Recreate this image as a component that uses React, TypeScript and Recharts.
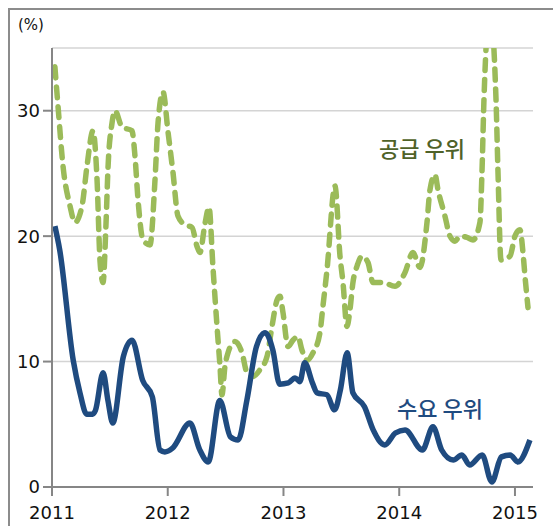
import { CartesianGrid, Line, LineChart, XAxis, YAxis } from "recharts";

// x = months since Jan 2011
const yearTicks = [0, 12, 24, 36, 48];
const yearLabels = ["2011", "2012", "2013", "2014", "2015"];
const valueTicks = [0, 10, 20, 30];

// 수요 우위
const demandMonths = [
  0.3, 0.8, 2.2, 2.9, 3.6, 4.2, 4.5, 5.3, 5.8, 6.3, 7.4, 8.3, 9.4, 10.4, 11.2, 11.7,
  12.5, 14.3, 15.3, 16.2, 17.4, 18.5, 19.3, 20.2, 21.2, 22.1, 22.9, 23.6, 24.5, 25.2,
  25.7, 26.2, 27.0, 27.5, 28.5, 29.3, 29.9, 30.6, 31.2, 32.4, 33.3, 34.5, 35.6, 36.6,
  38.4, 39.5, 40.4, 41.6, 42.5, 43.3, 44.6, 45.6, 46.6, 47.5, 48.3, 49.55,
];
const demandValues = [
  20.8, 18.9, 10.1, 7.5, 5.8, 5.8, 6.1, 9.1, 6.9, 5.1, 10.4, 11.7, 8.5, 7.2, 2.95, 2.8,
  3.1, 5.1, 3.0, 2.0, 6.9, 4.0, 3.75, 6.9, 11.2, 12.3, 10.9, 8.2, 8.3, 8.7,
  8.4, 9.9, 8.3, 7.5, 7.35, 6.15, 7.75, 10.7, 7.5, 6.4, 4.55, 3.35, 4.3, 4.55,
  2.95, 4.8, 2.95, 2.15, 2.55, 1.75, 2.55, 0.4, 2.4, 2.55, 2.0, 3.75,
];

// 공급 우위
const supplyMonths = [
  0.3, 0.62, 1.14, 1.87, 2.38, 3.11, 3.63, 4.25, 4.67, 4.98, 5.29, 5.6, 5.81, 6.22, 6.53,
  7.26, 8.29, 8.6, 8.92, 9.43, 10.16, 10.68, 10.99, 11.51, 12.03, 12.54, 13.06, 13.79,
  14.51, 15.03, 15.34, 15.86, 16.28, 16.69, 17.11, 17.42, 17.62, 17.93, 18.25, 18.97,
  19.7, 20.22, 20.84, 21.56, 22.29, 22.81, 23.33, 23.64, 23.95, 24.47, 24.98, 25.5,
  25.92, 26.44, 27.06, 27.78, 28.09, 28.51, 29.34, 29.86, 30.17, 30.58, 30.89, 31.2,
  31.62, 32.14, 32.76, 33.28, 34.31, 35.56, 36.6, 37.42, 38.15, 38.88, 39.19, 39.71,
  40.02, 40.74, 41.26, 41.78, 42.3, 43.02, 43.65, 44.37, 44.58, 44.79, 45.4, 46.03,
  46.24, 46.55, 47.48, 48.0, 48.52, 48.83, 49.04, 49.35,
];
const supplyValues = [
  33.5, 30.4, 25.6, 22.4, 21.1, 22.4, 25.6, 28.4, 24.5, 18.0, 16.3, 21.0, 25.5, 29.0, 30.0,
  28.7, 28.4, 26.4, 22.9, 19.7, 19.3, 24.5, 29.0, 31.5, 28.3, 25.1, 21.6, 20.9,
  20.7, 19.2, 18.7, 21.0, 22.3, 17.5, 12.8, 9.6, 7.35, 9.6, 10.7, 11.6,
  10.7, 9.1, 8.8, 9.35, 10.4, 12.8, 14.9, 15.2, 13.9, 11.2, 11.7, 12.0,
  10.9, 10.1, 10.7, 12.3, 14.4, 17.3, 24.0, 18.4, 16.3, 12.8, 14.1, 16.3,
  17.6, 18.4, 17.9, 16.3, 16.3, 16.0, 17.1, 18.7, 17.5, 21.1, 23.7, 24.9,
  23.7, 21.6, 20.0, 19.6, 20.0, 19.9, 19.7, 21.1, 25.1, 31.0, 38.0, 31.0,
  25.1, 18.1, 18.4, 20.0, 20.5, 18.7, 16.8, 14.3,
];

const demand = demandMonths.map((m, i) => ({ m, v: demandValues[i] }));
const supply = supplyMonths.map((m, i) => ({ m, v: supplyValues[i] }));

const axisColor = "#868686";
const tickFont = { fill: "#111", fontSize: 18, fontFamily: "DejaVu Sans" };

export default function App() {
  return (
    <div
      style={{
        position: "fixed",
        left: 8,
        top: 8,
        width: 545,
        height: 518,
        boxSizing: "border-box",
        borderTop: "2px solid #8c8c8c",
        borderLeft: "2px solid #8c8c8c",
        background: "#fff",
      }}
    >
      <div
        style={{
          position: "absolute",
          left: 8,
          top: 6,
          fontSize: 15,
          fontFamily: "DejaVu Sans",
          color: "#111",
        }}
      >
        (%)
      </div>
      <LineChart width={543} height={516} margin={{ top: 38, right: 20, left: 0, bottom: 0 }}>
        <CartesianGrid vertical={false} stroke="#d4d4d4" strokeWidth={1.5} />
        <XAxis
          dataKey="m"
          type="number"
          domain={[0, 49.87]}
          allowDataOverflow
          ticks={yearTicks}
          interval={0}
          tickFormatter={(m: number) => yearLabels[yearTicks.indexOf(m)]}
          height={39}
          tickSize={9}
          tickMargin={10}
          tick={tickFont}
          axisLine={{ stroke: axisColor, strokeWidth: 2 }}
          tickLine={{ stroke: axisColor, strokeWidth: 2 }}
        />
        <YAxis
          type="number"
          domain={[0, 35]}
          allowDataOverflow
          ticks={valueTicks}
          interval={0}
          width={42}
          tickSize={9}
          tickMargin={3}
          tick={tickFont}
          axisLine={{ stroke: axisColor, strokeWidth: 2 }}
          tickLine={{ stroke: axisColor, strokeWidth: 2 }}
        />
        <Line
          data={supply}
          dataKey="v"
          type="monotone"
          stroke="#9bbb59"
          strokeWidth={5.5}
          strokeDasharray="11 9"
          strokeLinecap="round"
          dot={false}
          isAnimationActive={false}
        />
        <Line
          data={demand}
          dataKey="v"
          type="monotone"
          stroke="#1f4b80"
          strokeWidth={5.5}
          dot={false}
          isAnimationActive={false}
        />
      </LineChart>
      <div
        style={{
          position: "absolute",
          left: 369,
          top: 124,
          fontSize: 22,
          lineHeight: "26px",
          fontFamily: "Noto Sans CJK KR",
          fontWeight: 500,
          color: "#4f6228",
          whiteSpace: "nowrap",
        }}
      >
        공급 우위
      </div>
      <div
        style={{
          position: "absolute",
          left: 387,
          top: 384,
          fontSize: 22,
          lineHeight: "26px",
          fontFamily: "Noto Sans CJK KR",
          fontWeight: 500,
          color: "#1f4b80",
          whiteSpace: "nowrap",
        }}
      >
        수요 우위
      </div>
    </div>
  );
}
